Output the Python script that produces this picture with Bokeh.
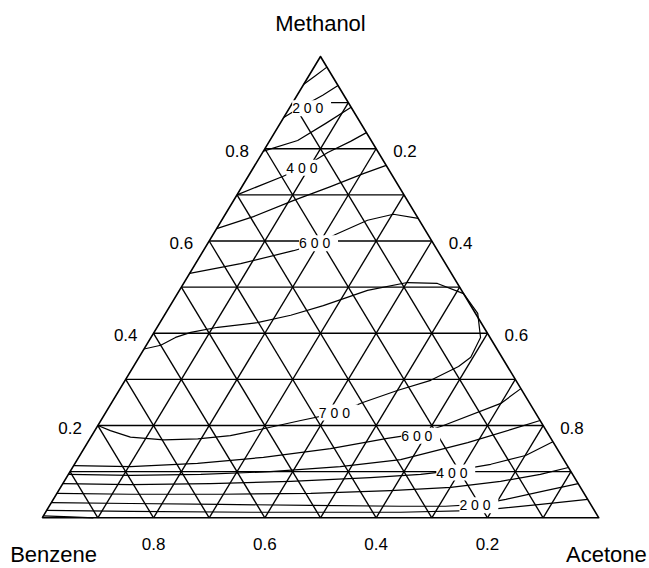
from bokeh.plotting import figure
from bokeh.models import ColumnDataSource, LabelSet, Range1d
from bokeh.core.properties import value
from bokeh.embed import file_html
from bokeh.resources import INLINE

# ---------------- data (ternary fractions: a = acetone, m = methanol) ----------------
vertex_names = ["Benzene", "Acetone", "Methanol"]
tick_values = [0.2, 0.4, 0.6, 0.8]
tick_labels = ["0.2", "0.4", "0.6", "0.8"]
grid_fracs = [0.1, 0.2, 0.3, 0.4, 0.5, 0.6, 0.7, 0.8, 0.9]

c050_a = [0.0, 0.05, 0.092]
c050_m = [0.004, 0.002, 0.0]
c100_top_a = [0.0, 0.012, 0.023]
c100_top_m = [0.940, 0.959, 0.977]
c100_bot_a = [0.0, 0.152, 0.369, 0.638, 0.779, 0.881, 0.960]
c100_bot_m = [0.016, 0.014, 0.012, 0.012, 0.016, 0.029, 0.040]
c200_top_a = [0.0, 0.011, 0.046, 0.063]
c200_top_m = [0.868, 0.881, 0.916, 0.937]
c200_bot_a = [0.0, 0.143, 0.306, 0.469, 0.632, 0.712, 0.770, 0.813, 0.875, 0.926]
c200_bot_m = [0.033, 0.031, 0.029, 0.027, 0.025, 0.025, 0.029, 0.040, 0.059, 0.074]
c300_top_a = [0.0, 0.050, 0.082, 0.110]
c300_top_m = [0.795, 0.818, 0.855, 0.890]
c300_bot_a = [0.0, 0.133, 0.295, 0.456, 0.596, 0.701, 0.784, 0.848, 0.891]
c300_bot_m = [0.053, 0.051, 0.051, 0.053, 0.059, 0.066, 0.079, 0.094, 0.109]
c400_top_a = [0.0, 0.062, 0.092, 0.117, 0.146, 0.165]
c400_top_m = [0.700, 0.740, 0.762, 0.792, 0.816, 0.835]
c400_bot_a = [0.0, 0.123, 0.265, 0.407, 0.546, 0.633, 0.691, 0.748, 0.801, 0.835]
c400_bot_m = [0.074, 0.072, 0.074, 0.079, 0.087, 0.094, 0.103, 0.116, 0.135, 0.165]
c500_top_a = [0.0, 0.053, 0.108, 0.159, 0.204, 0.236]
c500_top_m = [0.627, 0.653, 0.688, 0.718, 0.746, 0.764]
c500_bot_a = [0.0, 0.113, 0.238, 0.360, 0.480, 0.581, 0.683, 0.746, 0.789]
c500_bot_m = [0.094, 0.092, 0.094, 0.100, 0.111, 0.126, 0.163, 0.191, 0.211]
c600_top_a = [0.0, 0.081, 0.162, 0.199, 0.220, 0.262, 0.302, 0.351]
c600_top_m = [0.530, 0.551, 0.579, 0.595, 0.614, 0.645, 0.658, 0.649]
c600_bot_a = [0.0, 0.103, 0.220, 0.332, 0.443, 0.534, 0.588, 0.621, 0.700, 0.720]
c600_bot_m = [0.113, 0.111, 0.118, 0.131, 0.150, 0.172, 0.183, 0.200, 0.248, 0.280]
c700_a = [0.0, 0.028, 0.071, 0.134, 0.194, 0.249, 0.301, 0.359, 0.418, 0.451,
          0.500, 0.549, 0.584, 0.596, 0.592, 0.561, 0.514, 0.456, 0.401, 0.338,
          0.275, 0.227, 0.175, 0.109, 0.066, 0.044, 0.026, 0.0]
c700_m = [0.200, 0.189, 0.175, 0.169, 0.171, 0.178, 0.193, 0.211, 0.228, 0.250,
          0.276, 0.298, 0.328, 0.348, 0.391, 0.443, 0.486, 0.508, 0.510, 0.493,
          0.460, 0.439, 0.423, 0.413, 0.402, 0.391, 0.374, 0.366]

label_levels = [200, 400, 600, 700, 600, 400, 200]
label_a = [0.040, 0.094, 0.199, 0.418, 0.591, 0.694, 0.771]
label_m = [0.888, 0.759, 0.595, 0.228, 0.178, 0.098, 0.027]

contours = [
    (c050_a, c050_m), (c100_top_a, c100_top_m), (c100_bot_a, c100_bot_m),
    (c200_top_a, c200_top_m), (c200_bot_a, c200_bot_m),
    (c300_top_a, c300_top_m), (c300_bot_a, c300_bot_m),
    (c400_top_a, c400_top_m), (c400_bot_a, c400_bot_m),
    (c500_top_a, c500_top_m), (c500_bot_a, c500_bot_m),
    (c600_top_a, c600_top_m), (c600_bot_a, c600_bot_m),
    (c700_a, c700_m),
]


def tx(a, m):
    return a + m / 2.0


FONT = value("Liberation Sans")
INK = "black"

p = figure(width=649, height=568, output_backend="svg", toolbar_location=None,
           x_axis_location=None, y_axis_location=None,
           x_range=Range1d(-0.07492, 1.09109), y_range=Range1d(-0.10991, 1.12139),
           min_border=0, outline_line_color=None)
p.grid.visible = False

# lattice
gx, gy = [], []
for f in grid_fracs:
    gx.append([tx(0, f), tx(1 - f, f)]); gy.append([f, f])               # methanol const
    gx.append([tx(f, 0), tx(f, 1 - f)]); gy.append([0, 1 - f])           # acetone const
    gx.append([tx(1 - f, 0), tx(0, 1 - f)]); gy.append([0, 1 - f])       # benzene const
p.multi_line(gx, gy, line_color=INK, line_width=1.35)
p.line([tx(0, 0), tx(1, 0), tx(0, 1), tx(0, 0)], [0, 0, 1, 0],
       line_color=INK, line_width=1.6, line_join="round")

# contours
cx = [[tx(a, m) for a, m in zip(A, M)] for A, M in contours]
cy = [list(M) for A, M in contours]
p.multi_line(cx, cy, line_color=INK, line_width=1.2, line_join="round")

# contour labels
lab_src = ColumnDataSource(dict(
    x=[tx(a, m) for a, m in zip(label_a, label_m)], y=label_m,
    t=[" " + " ".join(str(v)) + " " for v in label_levels]))
p.add_layout(LabelSet(x="x", y="y", text="t", source=lab_src, text_font=FONT,
                      text_font_size="14px", text_align="center", text_baseline="middle",
                      background_fill_color="white", text_color=INK))

# tick labels
left_src = ColumnDataSource(dict(x=[tx(0, v) for v in tick_values], y=tick_values, t=tick_labels))
p.add_layout(LabelSet(x="x", y="y", text="t", source=left_src, text_font=FONT,
                      text_font_size="17px", text_align="right", text_baseline="middle",
                      x_offset=-16, y_offset=-2, text_color=INK))
right_src = ColumnDataSource(dict(x=[tx(v, 1 - v) for v in tick_values],
                                  y=[1 - v for v in tick_values], t=tick_labels))
p.add_layout(LabelSet(x="x", y="y", text="t", source=right_src, text_font=FONT,
                      text_font_size="17px", text_align="left", text_baseline="middle",
                      x_offset=17, y_offset=-2, text_color=INK))
bot_src = ColumnDataSource(dict(x=[tx(1 - v, 0) for v in tick_values],
                                y=[0.0] * len(tick_values), t=tick_labels))
p.add_layout(LabelSet(x="x", y="y", text="t", source=bot_src, text_font=FONT,
                      text_font_size="17px", text_align="center", text_baseline="middle",
                      y_offset=-26, text_color=INK))

# vertex names
top_src = ColumnDataSource(dict(x=[tx(0, 1)], y=[1.0], t=[vertex_names[2]]))
p.add_layout(LabelSet(x="x", y="y", text="t", source=top_src, text_font=FONT,
                      text_font_size="22px", text_align="center", text_baseline="middle",
                      y_offset=33, text_color=INK))
bl_src = ColumnDataSource(dict(x=[tx(0, 0)], y=[0.0], t=[vertex_names[0]]))
p.add_layout(LabelSet(x="x", y="y", text="t", source=bl_src, text_font=FONT,
                      text_font_size="22px", text_align="left", text_baseline="middle",
                      x_offset=-32, y_offset=-37, text_color=INK))
br_src = ColumnDataSource(dict(x=[tx(1, 0)], y=[0.0], t=[vertex_names[1]]))
p.add_layout(LabelSet(x="x", y="y", text="t", source=br_src, text_font=FONT,
                      text_font_size="22px", text_align="right", text_baseline="middle",
                      x_offset=48, y_offset=-37, text_color=INK))

open("out.html", "w").write(file_html(p, INLINE))
